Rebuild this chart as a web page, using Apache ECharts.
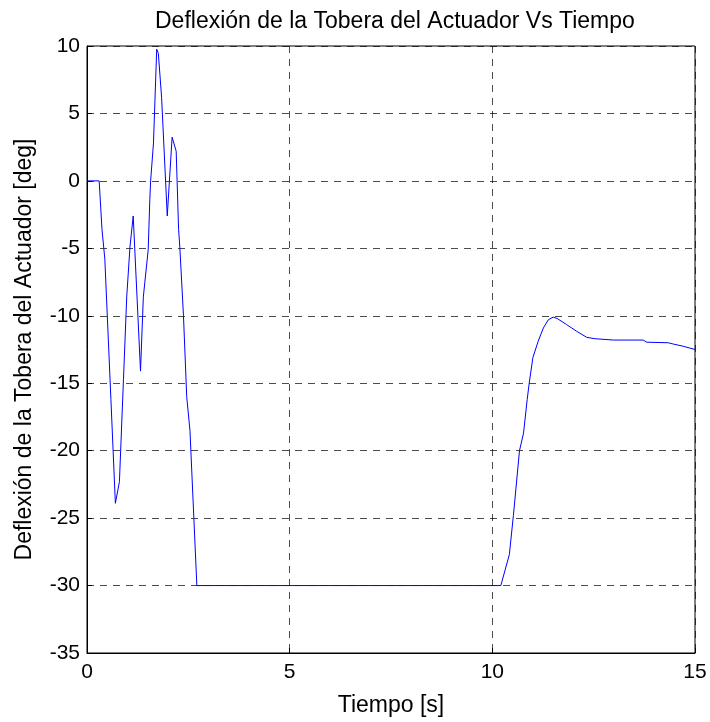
<!DOCTYPE html>
<html>
<head>
<meta charset="utf-8">
<script src="https://cdn.jsdelivr.net/npm/echarts@6/dist/echarts.min.js"></script>
<style>
  html, body { margin: 0; padding: 0; background: #fff; }
  #chart { width: 710px; height: 722px; }
</style>
</head>
<body>
<div id="chart"></div>
<script>
// Nozzle deflection time history: time [s] and deflection [deg]
const timeS = [
  0, 0.30, 0.37, 0.44, 0.59, 0.70, 0.80, 0.90, 0.98, 1.06, 1.14,
  1.32, 1.39, 1.51, 1.55, 1.57, 1.64, 1.72, 1.76, 1.84, 1.98, 2.01,
  2.10, 2.20, 2.26, 2.29, 2.38, 2.46, 2.54, 2.71,
  10.21, 10.42, 10.52, 10.67, 10.77, 10.86, 10.91, 11.00, 11.13, 11.26,
  11.38, 11.50, 11.60, 11.83, 12.08, 12.33, 12.53, 12.99, 13.72, 13.81,
  14.34, 14.47, 14.71, 15.00
];
const deflectionDeg = [
  0, 0, -3.6, -5.8, -16.2, -23.9, -22.3, -14.7, -8.6, -4.9, -2.6,
  -14.1, -8.6, -5.1, -1.4, 0, 2.8, 9.76, 9.46, 6.2, -2.6, -2.7,
  3.24, 2.2, -3.6, -4.9, -10.0, -16.0, -18.5, -30,
  -30, -27.7, -24.8, -20.0, -18.7, -16.2, -15.0, -13.1, -11.9, -10.9,
  -10.3, -10.1, -10.2, -10.65, -11.15, -11.6, -11.7, -11.8, -11.8, -11.96,
  -12.0, -12.1, -12.26, -12.5
];
const xTicks = [0, 5, 10, 15];
const yTicks = [-35, -30, -25, -20, -15, -10, -5, 0, 5, 10];

const FONT = 'Liberation Sans, Arial, sans-serif';

const chart = echarts.init(document.getElementById('chart'), null, { renderer: 'canvas' });
chart.setOption({
  animation: false,
  backgroundColor: '#ffffff',
  // title sits centred over the plot area rather than the whole canvas
  title: {
    text: 'Deflexión de la Tobera del Actuador Vs Tiempo',
    left: 150,
    top: 5,
    textStyle: { fontFamily: FONT, fontSize: 23, fontWeight: 'normal', color: '#000' }
  },
  grid: {
    left: 87, right: 15, top: 46, bottom: 68,
    show: true, borderColor: '#000', borderWidth: 1, backgroundColor: '#fff'
  },
  xAxis: {
    type: 'value',
    min: xTicks[0], max: xTicks[xTicks.length - 1], interval: 5,
    name: 'Tiempo [s]',
    nameLocation: 'middle',
    nameGap: 41,
    nameTextStyle: { fontFamily: FONT, fontSize: 23, color: '#000' },
    axisLine: { show: true, onZero: false, lineStyle: { color: '#000', width: 1 } },
    axisTick: { show: true, inside: true, length: 5, lineStyle: { color: '#000' } },
    axisLabel: { fontFamily: FONT, fontSize: 21, color: '#000', margin: 9 },
    splitLine: { show: true, lineStyle: { color: '#000', type: [7, 6], width: 1, opacity: 0.7 } }
  },
  yAxis: {
    type: 'value',
    min: yTicks[0], max: yTicks[yTicks.length - 1], interval: 5,
    name: 'Deflexión de la Tobera del Actuador [deg]',
    nameLocation: 'middle',
    nameGap: 51,
    nameTextStyle: { fontFamily: FONT, fontSize: 23, color: '#000' },
    axisLine: { show: true, onZero: false, lineStyle: { color: '#000', width: 1 } },
    axisTick: { show: true, inside: true, length: 5, lineStyle: { color: '#000' } },
    axisLabel: { fontFamily: FONT, fontSize: 21, color: '#000', margin: 7 },
    splitLine: { show: true, lineStyle: { color: '#000', type: [7, 6], width: 1, opacity: 0.7 } }
  },
  series: [{
    type: 'line',
    data: timeS.map((t, i) => [t, deflectionDeg[i]]),
    showSymbol: false,
    symbol: 'none',
    lineStyle: { color: '#0000ff', width: 1 },
    silent: true
  }]
});
</script>
</body>
</html>
